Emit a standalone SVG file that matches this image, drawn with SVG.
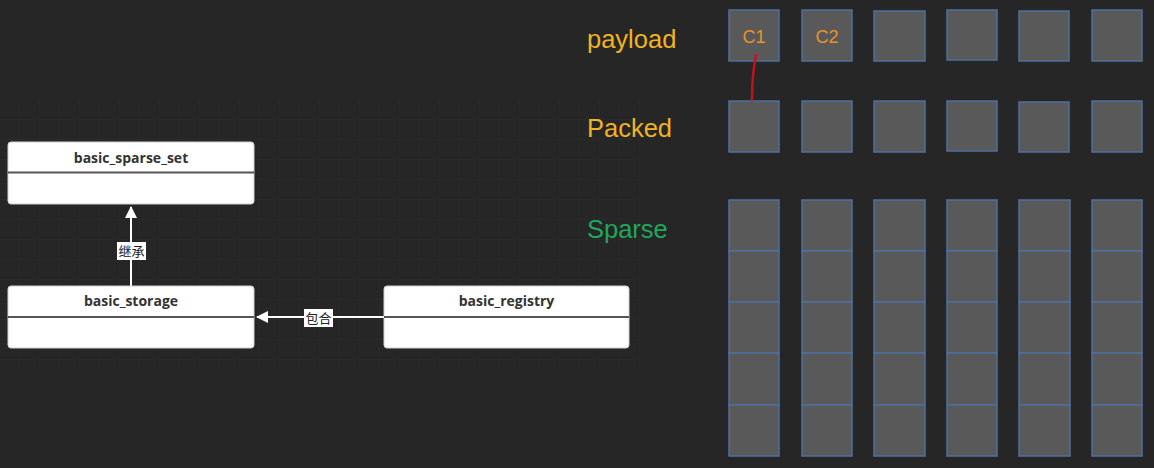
<svg xmlns="http://www.w3.org/2000/svg" width="1154" height="468" viewBox="0 0 1154 468">
<defs>
<style>
.box{fill:#ffffff;stroke:#d0d0d0;stroke-width:1}
.div{stroke:#555555;stroke-width:2}
.title{font-family:"Open Sans","Noto Sans","Liberation Sans",sans-serif;font-weight:bold;font-size:14px;fill:#333333;text-anchor:middle}
.edge{stroke:#ffffff;stroke-width:2;fill:none}
.lbl{font-family:"Noto Sans CJK SC",sans-serif;font-size:13px;fill:#222222;text-anchor:middle}
.lblbg{fill:#ffffff}
.cell{fill:#595959;stroke:#4f6f9f;stroke-width:1.5}
.big{font-family:"Liberation Sans",Arial,sans-serif;font-size:25.5px}
.c{font-family:"Liberation Sans",Arial,sans-serif;font-size:18px;fill:#e8922a;text-anchor:middle}
</style>
<marker id="tri" viewBox="0 0 12 12" refX="11" refY="6" markerWidth="12" markerHeight="12" markerUnits="userSpaceOnUse" orient="auto">
<path d="M0,0 L12,6 L0,12 Z" fill="#ffffff"/>
</marker>
<pattern id="grid" width="20" height="20" patternUnits="userSpaceOnUse">
<path d="M20 0 V20 M0 20 H20" stroke="#2b2b2b" stroke-width="1" fill="none"/>
</pattern>
</defs>
<rect width="1154" height="468" fill="#262626"/>
<rect x="0" y="100" width="640" height="270" fill="url(#grid)"/>

<g id="connectors">
<line class="edge" x1="131" y1="286" x2="131" y2="207" marker-end="url(#tri)"/>
<rect class="lblbg" x="117" y="242" width="29" height="18"/>
<text class="lbl" x="131.5" y="256">继承</text>
<line class="edge" x1="384" y1="317" x2="257" y2="317" marker-end="url(#tri)"/>
<rect class="lblbg" x="304" y="309" width="29" height="18"/>
<text class="lbl" x="318.5" y="323">包合</text>
</g>

<g id="basic_sparse_set">
<rect class="box" x="8" y="142" width="246" height="62" rx="3"/>
<line class="div" x1="8" y1="172.5" x2="254" y2="172.5"/>
<text class="title" x="131" y="163">basic_sparse_set</text>
</g>
<g id="basic_storage">
<rect class="box" x="8" y="286" width="246" height="62" rx="3"/>
<line class="div" x1="8" y1="317" x2="254" y2="317"/>
<text class="title" x="131" y="306">basic_storage</text>
</g>
<g id="basic_registry">
<rect class="box" x="384" y="286" width="245" height="62" rx="3"/>
<line class="div" x1="384" y1="317" x2="629" y2="317"/>
<text class="title" x="506.5" y="306">basic_registry</text>
</g>

<g id="labels">
<text class="big" x="587" y="48" fill="#f0b323">payload</text>
<text class="big" x="587" y="137" fill="#f0b323">Packed</text>
<text class="big" x="587" y="238" fill="#1fa85a">Sparse</text>
</g>

<g id="payload">
<rect class="cell" x="729" y="10" width="50" height="51"/>
<rect class="cell" x="802" y="10" width="50" height="51"/>
<rect class="cell" x="874" y="11" width="51" height="50"/>
<rect class="cell" x="947" y="10" width="50" height="50"/>
<rect class="cell" x="1019" y="11" width="50" height="50"/>
<rect class="cell" x="1092" y="10" width="50" height="51"/>
<text class="c" x="754" y="43">C1</text>
<text class="c" x="827" y="43">C2</text>
</g>

<g id="packed">
<rect class="cell" x="729" y="101" width="50" height="51"/>
<rect class="cell" x="802" y="101" width="50" height="51"/>
<rect class="cell" x="874" y="101" width="51" height="51"/>
<rect class="cell" x="947" y="101" width="50" height="50"/>
<rect class="cell" x="1019" y="102" width="50" height="50"/>
<rect class="cell" x="1092" y="101" width="50" height="51"/>
</g>

<g id="sparse">
<g id="sp-col1"><rect class="cell" x="729" y="200" width="50" height="51"/><rect class="cell" x="729" y="251" width="50" height="51"/><rect class="cell" x="729" y="302" width="50" height="51"/><rect class="cell" x="729" y="353" width="50" height="52"/><rect class="cell" x="729" y="405" width="50" height="51"/></g>
<g id="sp-col2"><rect class="cell" x="802" y="200" width="50" height="51"/><rect class="cell" x="802" y="251" width="50" height="51"/><rect class="cell" x="802" y="302" width="50" height="51"/><rect class="cell" x="802" y="353" width="50" height="52"/><rect class="cell" x="802" y="405" width="50" height="51"/></g>
<g id="sp-col3"><rect class="cell" x="874" y="200" width="51" height="51"/><rect class="cell" x="874" y="251" width="51" height="51"/><rect class="cell" x="874" y="302" width="51" height="51"/><rect class="cell" x="874" y="353" width="51" height="52"/><rect class="cell" x="874" y="405" width="51" height="51"/></g>
<g id="sp-col4"><rect class="cell" x="947" y="200" width="50" height="51"/><rect class="cell" x="947" y="251" width="50" height="51"/><rect class="cell" x="947" y="302" width="50" height="51"/><rect class="cell" x="947" y="353" width="50" height="52"/><rect class="cell" x="947" y="405" width="50" height="51"/></g>
<g id="sp-col5"><rect class="cell" x="1019" y="200" width="51" height="51"/><rect class="cell" x="1019" y="251" width="51" height="51"/><rect class="cell" x="1019" y="302" width="51" height="51"/><rect class="cell" x="1019" y="353" width="51" height="52"/><rect class="cell" x="1019" y="405" width="51" height="51"/></g>
<g id="sp-col6"><rect class="cell" x="1092" y="200" width="50" height="51"/><rect class="cell" x="1092" y="251" width="50" height="51"/><rect class="cell" x="1092" y="302" width="50" height="51"/><rect class="cell" x="1092" y="353" width="50" height="52"/><rect class="cell" x="1092" y="405" width="50" height="51"/></g>
</g>

<g id="annotation">
<path d="M756,55 C754,65 752,80 752,100" stroke="#c0141c" stroke-width="2.5" fill="none" stroke-linecap="round"/>
</g>
</svg>
